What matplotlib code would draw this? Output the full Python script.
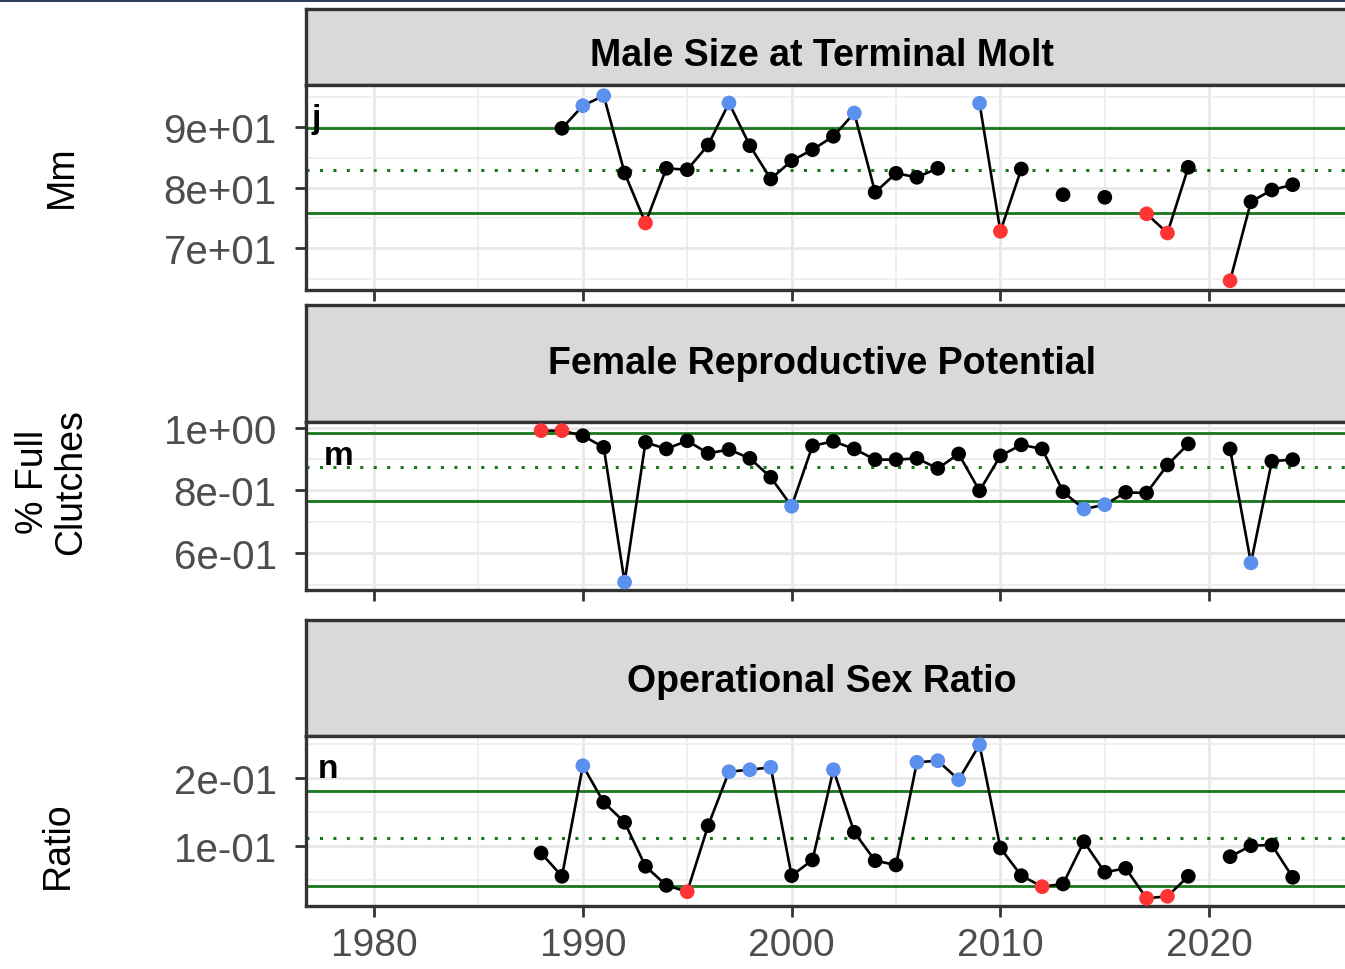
import numpy as np
import matplotlib
matplotlib.use("Agg")
from matplotlib import pyplot as plt
from matplotlib.ticker import FixedLocator, FuncFormatter
from matplotlib.patches import Rectangle

plt.rcParams['font.family'] = ['Liberation Sans', 'DejaVu Sans']

# years shared by all three panels, nan = no survey value that year
years = list(range(1988, 2025))

male_size = [np.nan, 89.83, 93.57, 95.22, 82.45, 74.18, 83.22, 82.99, 87.07, 94.02,
             86.96, 81.45, 84.48, 86.30, 88.51, 92.36, 79.26, 82.40, 81.74, 83.22,
             np.nan, 93.97, 72.81, 83.11, np.nan, 78.86, np.nan, 78.43, np.nan, 75.70,
             72.53, 83.39, np.nan, 64.64, 77.70, 79.64, 80.51]

full_clutch = [0.990, 0.990, 0.974, 0.937, 0.509, 0.953, 0.932, 0.958, 0.918, 0.930,
               0.902, 0.842, 0.750, 0.942, 0.956, 0.932, 0.898, 0.898, 0.902, 0.870,
               0.916, 0.799, 0.910, 0.945, 0.932, 0.796, 0.741, 0.755, 0.794, 0.792,
               0.881, 0.948, np.nan, 0.932, 0.570, 0.893, 0.898]

sex_ratio = [0.0901, 0.0559, 0.2185, 0.1647, 0.1353, 0.0706, 0.0425, 0.0332, 0.1303, 0.2097,
             0.2126, 0.2162, 0.0568, 0.0799, 0.2126, 0.1206, 0.0788, 0.0725, 0.2235, 0.2259,
             0.1979, 0.2494, 0.0975, 0.0568, 0.0406, 0.0446, 0.1068, 0.0618, 0.0676, 0.0235,
             0.0265, 0.0559, np.nan, 0.0847, 0.1009, 0.1019, 0.0544]

# reference lines: (upper, mean, lower)
male_lines = [89.9, 82.9, 75.8]
clutch_lines = [0.981, 0.874, 0.768]
ratio_lines = [0.1818, 0.1118, 0.042]

titles = ["Male Size at Terminal Molt", "Female Reproductive Potential", "Operational Sex Ratio"]
ylabels = ["Mm", "% Full\nClutches", "Ratio"]
letters = ["j", "m", "n"]
x_ticks = [1980, 1990, 2000, 2010, 2020]

BLUE = '#5b90ee'
RED = '#ff3535'
GREEN = '#18761b'
EDGE = '#333333'
W, H = 1345., 970.


def px_box(left, top, right, bottom):
    # pixel box -> figure fraction rect
    return [left / W, 1 - bottom / H, (right - left) / W, (bottom - top) / H]


def point_colors(vals, lines, hi_col, lo_col):
    cols = []
    for v in vals:
        if v > lines[0]:
            cols.append(hi_col)
        elif v < lines[2]:
            cols.append(lo_col)
        else:
            cols.append('black')
    return cols


def panel(fig, strip_px, ax_px, title, title_y, vals, lines, ylim, yticks, yminor,
          hi_col, lo_col, letter, letter_xy, show_x):
    sax = fig.add_axes(px_box(*strip_px))
    sax.set_facecolor('#d9d9d9')
    sax.set_xticks([])
    sax.set_yticks([])
    for s in sax.spines.values():
        s.set_color(EDGE)
        s.set_linewidth(2.4)
    sax.text(0.493, title_y, title, transform=sax.transAxes, ha='center', va='center',
             fontsize=27, fontweight='bold')

    ax = fig.add_axes(px_box(*ax_px))
    ax.set_xlim(1976.74, 2026.84)
    ax.set_ylim(*ylim)
    ax.xaxis.set_major_locator(FixedLocator(x_ticks))
    ax.xaxis.set_minor_locator(FixedLocator([1975, 1985, 1995, 2005, 2015, 2025]))
    ax.yaxis.set_major_locator(FixedLocator(yticks))
    ax.yaxis.set_minor_locator(FixedLocator(yminor))
    ax.yaxis.set_major_formatter(FuncFormatter(lambda v, p: f"{v:.0e}"))
    ax.grid(which='major', color='#e8e8e8', linewidth=2.0, zorder=0)
    ax.grid(which='minor', color='#eeeeee', linewidth=1.3, zorder=0)
    ax.set_axisbelow(True)
    ax.tick_params(which='major', length=8, width=2.0, color=EDGE,
                   labelsize=29, labelcolor='#4d4d4d')
    ax.tick_params(axis='y', pad=13)
    ax.tick_params(axis='x', pad=7, labelsize=28)
    ax.tick_params(which='minor', length=0)
    if not show_x:
        ax.tick_params(axis='x', labelbottom=False)
    for s in ax.spines.values():
        s.set_color(EDGE)
        s.set_linewidth(2.4)

    ax.axhline(lines[0], color=GREEN, lw=2.0, zorder=2)
    ax.axhline(lines[1], color=GREEN, lw=2.2, ls=(0, (1, 3.4)), zorder=2)
    ax.axhline(lines[2], color=GREEN, lw=2.0, zorder=2)

    ax.plot(years, vals, color='black', lw=1.9, zorder=3)
    v = np.array(vals, dtype=float)
    ok = ~np.isnan(v)
    yy = np.array(years)[ok]
    vv = v[ok]
    ax.scatter(yy, vv, s=112, c=point_colors(vv, lines, hi_col, lo_col),
               zorder=4, linewidths=0, clip_on=False)

    ax.text(letter_xy[0], letter_xy[1], letter, fontsize=24, fontweight='bold',
            ha='left', va='center', zorder=5)
    return ax


fig = plt.figure(figsize=(13.45, 9.70), dpi=100)

panel(fig, (306, 10, 1352, 86), (306, 86, 1352, 291), titles[0], 0.40, male_size, male_lines,
      (63.11, 96.99), [70, 80, 90], [65, 75, 85, 95], BLUE, RED, letters[0], (1977.0, 91.4), False)
panel(fig, (306, 306, 1352, 423), (306, 423, 1352, 591), titles[1], 0.5, full_clutch, clutch_lines,
      (0.484, 1.0175), [0.6, 0.8, 1.0], [0.5, 0.7, 0.9], RED, BLUE, letters[1], (1977.6, 0.91), False)
panel(fig, (306, 621, 1352, 737), (306, 737, 1352, 907), titles[2], 0.47, sex_ratio, ratio_lines,
      (0.0122, 0.2622), [0.1, 0.2], [0.05, 0.15, 0.25], BLUE, RED, letters[2], (1977.3, 0.2137), True)

# y axis titles sit way out on the left
fig.text(62 / W, 1 - 177 / H, ylabels[0], rotation=90, ha='center', va='center', fontsize=27)
fig.text(52 / W, 1 - 482 / H, ylabels[1], rotation=90, ha='center', va='center', fontsize=27,
         linespacing=1.05)
fig.text(58 / W, 1 - 845 / H, ylabels[2], rotation=90, ha='center', va='center', fontsize=27)

# thin navy bar along the very top
fig.add_artist(Rectangle((0, 1 - 3 / H), 1, 3 / H, transform=fig.transFigure,
                         color='#2f3d58', lw=0))

fig.savefig('out.png', dpi=100)
